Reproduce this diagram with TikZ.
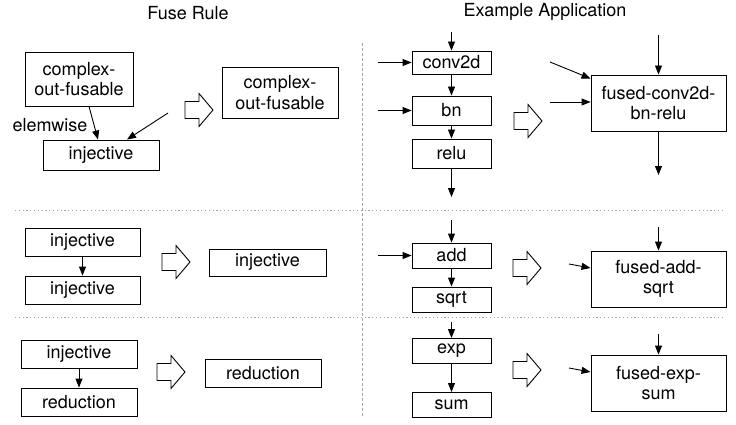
\documentclass[tikz,border=0pt]{standalone}
\usepackage{fontspec}
\setmainfont{TeX Gyre Heros}
\usetikzlibrary{arrows.meta}
\begin{document}
\begin{tikzpicture}[x=1pt,y=-1pt,
  txt/.style={font=\fontsize{18}{20.5}\selectfont},
  box/.style={draw, line width=0.9pt, inner sep=0pt, align=center, txt},
  lbl/.style={inner sep=0pt, txt},
  arr/.style={-{Triangle[length=9pt,width=7pt]}, line width=0.9pt},
  hdash/.style={gray!70, line width=0.8pt, dash pattern=on 1.2pt off 2.6pt},
  vdash/.style={gray!70, line width=0.8pt, dash pattern=on 3pt off 2pt},
  hollowarrow/.pic={\draw[line width=0.9pt] (0,-8.5) -- (14,-8.5) -- (14,-16.5) -- (28,0) -- (14,16.5) -- (14,8.5) -- (0,8.5) -- cycle;}]
\useasboundingbox (0,0) rectangle (736,425);

% titles
\node[lbl] (t1) at (188,13) {Fuse Rule};
\node[lbl] (t2) at (545,12) {Example Application};

% separators
\draw[hdash] (15,210) -- (722,210);
\draw[hdash] (15,317) -- (722,317);
\draw[vdash] (362,43) -- (362,418);

% ---------- Fuse rule, row 1
\node[box, minimum width=108pt, minimum height=54pt] (cof1) at (79,79) {complex-\\out-fusable};
\node[lbl] (elem) at (50,125) {elemwise};
\node[box, minimum width=116pt, minimum height=30pt] (inj1) at (101,155) {injective};
\coordinate (c1) at (168,113);
\draw[arr] ([xshift=10pt]cof1.south) -- ([xshift=-3pt]inj1.north);
\draw[arr] (c1) -- ([xshift=26pt]inj1.north);
\pic at (185,110) {hollowarrow};
\node[box, minimum width=116pt, minimum height=51pt] (cof2) at (280,92.5) {complex-\\out-fusable};

% ---------- Fuse rule, row 2
\node[box, minimum width=115pt, minimum height=28pt] (injA) at (82.5,242) {injective};
\node[box, minimum width=115pt, minimum height=28pt] (injB) at (82.5,290) {injective};
\draw[arr] (injA.south) -- (injB.north);
\pic at (162,262) {hollowarrow};
\node[box, minimum width=117pt, minimum height=27pt] (injR) at (267.5,262.5) {injective};

% ---------- Fuse rule, row 3
\node[box, minimum width=116pt, minimum height=28pt] (injC) at (79,354) {injective};
\node[box, minimum width=116pt, minimum height=28pt] (redA) at (79,402) {reduction};
\draw[arr] (injC.south) -- (redA.north);
\pic at (157,372) {hollowarrow};
\node[box, minimum width=116pt, minimum height=28pt] (redR) at (263,373) {reduction};

% ---------- Example, row 1
\node[box, minimum width=79pt, minimum height=23pt] (conv) at (451.5,62.5) {conv2d};
\node[box, minimum width=79pt, minimum height=29pt] (bn) at (451.5,110.5) {bn};
\node[box, minimum width=79pt, minimum height=29pt] (relu) at (451.5,153.5) {relu};
\coordinate (ci1) at (451.5,32);
\coordinate (ci2) at (378,62.5);
\coordinate (ci3) at (378,110.5);
\coordinate (co1) at (451.5,197);
\draw[arr] (ci1) -- (conv.north);
\draw[arr] (ci2) -- (conv.west);
\draw[arr] (conv.south) -- (bn.north);
\draw[arr] (ci3) -- (bn.west);
\draw[arr] (bn.south) -- (relu.north);
\draw[arr] (relu.south) -- (co1);
\pic at (514,121) {hollowarrow};
\node[box, minimum width=135pt, minimum height=56pt] (fcbr) at (658.5,103) {fused-conv2d-\\bn-relu};
\coordinate (fi1) at (658.5,35);
\coordinate (fi2) at (550,62);
\coordinate (fi3) at (550,102);
\coordinate (fo1) at (658.5,175);
\draw[arr] (fi1) -- (fcbr.north);
\draw[arr] (fi2) -- ([yshift=-4pt]fcbr.north west);
\draw[arr] (fi3) -- (fi3 -| fcbr.west);
\draw[arr] (fcbr.south) -- (fo1);

% ---------- Example, row 2
\node[box, minimum width=79pt, minimum height=25pt] (add) at (451.5,255.5) {add};
\node[box, minimum width=79pt, minimum height=25pt] (sqrt) at (451.5,299.5) {sqrt};
\coordinate (ai1) at (451.5,220);
\coordinate (ai2) at (378,255.5);
\draw[arr] (ai1) -- (add.north);
\draw[arr] (ai2) -- (add.west);
\draw[arr] (add.south) -- (sqrt.north);
\pic at (513,268) {hollowarrow};
\node[box, minimum width=135pt, minimum height=56pt] (fas) at (658.5,279) {fused-add-\\sqrt};
\coordinate (fai1) at (658.5,227);
\coordinate (fai2) at (569,264);
\draw[arr] (fai1) -- (fas.north);
\draw[arr] (fai2) -- ([yshift=11pt]fas.west);

% ---------- Example, row 3
\node[box, minimum width=79pt, minimum height=25pt] (exp) at (451.5,351) {exp};
\node[box, minimum width=79pt, minimum height=25pt] (sum) at (451.5,405) {sum};
\coordinate (ei1) at (451.5,322);
\draw[arr] (ei1) -- (exp.north);
\draw[arr] (exp.south) -- (sum.north);
\pic at (513,370) {hollowarrow};
\node[box, minimum width=135pt, minimum height=56pt] (fes) at (658.5,383) {fused-exp-\\sum};
\coordinate (fei1) at (658.5,334);
\coordinate (fei2) at (569,368);
\draw[arr] (fei1) -- (fes.north);
\draw[arr] (fei2) -- ([yshift=11pt]fes.west);
\end{tikzpicture}
\end{document}
